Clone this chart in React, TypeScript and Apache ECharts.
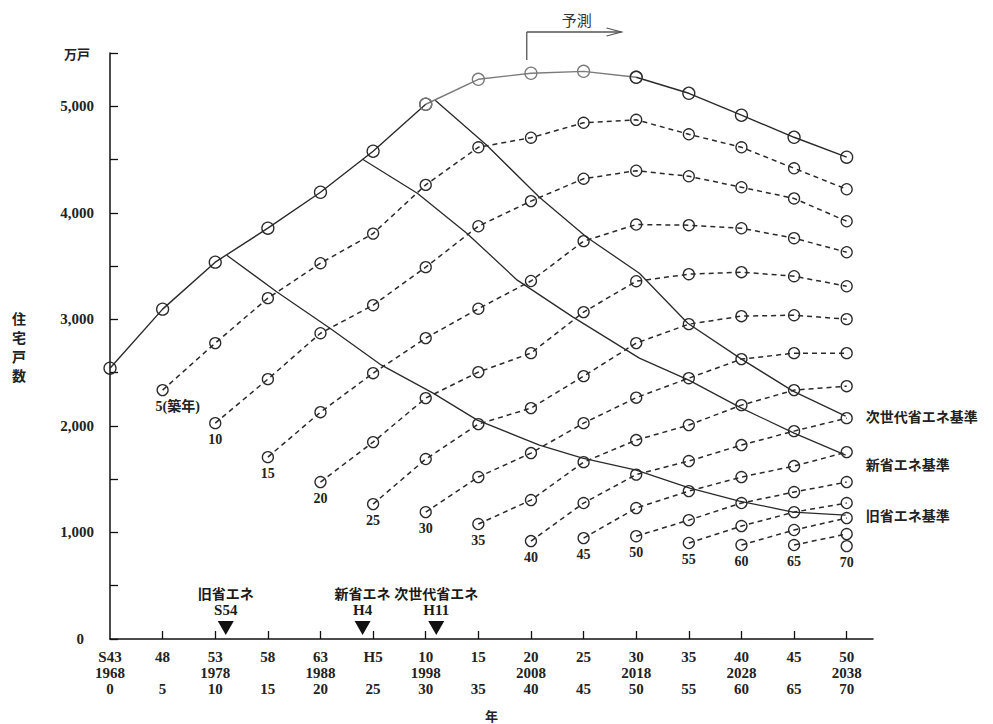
import React, { useEffect, useRef } from 'react';
import * as echarts from 'echarts';

// x positions (years elapsed since S43 / 1968)
const xValues = [0, 5, 10, 15, 20, 25, 30, 35, 40, 45, 50, 55, 60, 65, 70];
const eraLabels = ['S43', '48', '53', '58', '63', 'H5', '10', '15', '20', '25', '30', '35', '40', '45', '50'];
const yearLabels = ['1968', '', '1978', '', '1988', '', '1998', '', '2008', '', '2018', '', '2028', '', '2038'];

// total housing stock (万戸)
const totalStock = [2542, 3096, 3537, 3856, 4193, 4578, 5019, 5253, 5310, 5328, 5272, 5122, 4916, 4709, 4522];

// stock by construction age (each series starts at its own age)
const cohortStarts = [5, 10, 15, 20, 25, 30, 35, 40, 45, 50, 55, 60, 65, 70];
const cohort05 = [2336, 2777, 3199, 3527, 3805, 4262, 4615, 4705, 4845, 4873, 4737, 4615, 4418, 4221];
const cohort10 = [2026, 2439, 2870, 3133, 3490, 3874, 4110, 4320, 4395, 4343, 4240, 4135, 3921];
const cohort15 = [1707, 2129, 2495, 2824, 3100, 3360, 3734, 3890, 3884, 3855, 3762, 3630];
const cohort20 = [1473, 1848, 2261, 2505, 2683, 3068, 3358, 3424, 3443, 3405, 3311];
const cohort25 = [1266, 1689, 2017, 2167, 2467, 2777, 2955, 3030, 3039, 3002];
const cohort30 = [1191, 1520, 1745, 2026, 2265, 2448, 2627, 2683, 2683];
const cohort35 = [1079, 1304, 1660, 1867, 2008, 2195, 2336, 2373];
const cohort40 = [919, 1276, 1543, 1670, 1820, 1951, 2073];
const cohort45 = [947, 1229, 1388, 1520, 1623, 1754];
const cohort50 = [965, 1116, 1276, 1379, 1473];
const cohort55 = [901, 1060, 1191, 1276];
const cohort60 = [882, 1023, 1135];
const cohort65 = [882, 985];
const cohort70 = [872];
const cohorts = [cohort05, cohort10, cohort15, cohort20, cohort25, cohort30, cohort35, cohort40, cohort45, cohort50, cohort55, cohort60, cohort65, cohort70];

// energy-standard boundary lines [x, 万戸]
const oldStdLine = [[11.1, 3602], [15.9, 3255], [20.9, 2917], [25.8, 2570], [30.7, 2308], [34.9, 2054], [40.8, 1820], [44.9, 1698], [50.0, 1585], [55.1, 1416], [59.8, 1295], [64.9, 1191], [69.9, 1163]];
const newStdLine = [[24.0, 4503], [29.2, 4184], [33.9, 3809], [38.7, 3368], [44.0, 3021], [50.3, 2636], [55.0, 2430], [60.0, 2167], [65.0, 1932], [69.9, 1726]];
const nextStdLine = [[30.9, 5056], [35.8, 4634], [40.8, 4146], [45.3, 3771], [50.3, 3433], [54.9, 2964], [60.0, 2627], [64.9, 2326], [69.9, 2092]];
const stdLineNames = ['旧省エネ基準', '新省エネ基準', '次世代省エネ基準'];

// enforcement of standards
const markerNames = ['旧省エネ', '新省エネ', '次世代省エネ'];
const markerEras = ['S54', 'H4', 'H11'];
const markerX = [11, 24, 31];

const forecastStart = 39.6;

const SERIF = "'Liberation Serif', 'Noto Sans CJK JP', serif";
const CJK = "'Noto Sans CJK JP', sans-serif";
const INK = '#2a2a2a';

export default function App() {
  const ref = useRef<HTMLDivElement>(null);
  useEffect(() => {
    const chart = echarts.init(ref.current!, null, { renderer: 'svg' });

    const symbolStyle = { color: 'rgba(0,0,0,0)', borderColor: INK, borderWidth: 1.3 };

    const totalSeg = (from: number, to: number, color: string) => ({
      type: 'line',
      data: xValues.slice(from, to + 1).map((x, j) => [x, totalStock[from + j]]),
      symbol: 'circle',
      symbolSize: 12,
      itemStyle: { color: 'rgba(0,0,0,0)', borderColor: color, borderWidth: 1.3 },
      lineStyle: { color, width: 1.4 },
      z: 4,
    });

    const cohortSeries = cohorts.map((vals, i) => ({
      type: 'line',
      data: vals.map((v, j) => {
        const pt: any = { value: [cohortStarts[i] + 5 * j, v] };
        if (j === 0) {
          pt.label = {
            show: true,
            position: 'bottom',
            distance: 3,
            formatter: i === 0 ? '5(築年)' : String(cohortStarts[i]),
            fontFamily: SERIF,
            fontWeight: 'bold',
            fontSize: 14,
            color: '#222',
            ...(i === 0 ? { align: 'left', offset: [-7, 0] } : {}),
          };
        }
        return pt;
      }),
      symbol: 'circle',
      symbolSize: 11,
      itemStyle: symbolStyle,
      lineStyle: { color: INK, width: 1.5, type: [5, 4] },
      z: 3,
    }));

    const stdSeries = [oldStdLine, newStdLine, nextStdLine].map((pts, i) => ({
      type: 'line',
      data: pts,
      symbol: 'none',
      lineStyle: { color: INK, width: 1.3 },
      z: 2,
      endLabel: {
        show: true,
        formatter: stdLineNames[i],
        distance: 20,
        offset: i === 1 ? [0, 9] : [0, 0],
        fontFamily: CJK,
        fontWeight: 'bold',
        fontSize: 14,
        color: '#222',
      },
    }));

    const markerSeries = {
      type: 'scatter',
      data: markerX.map((x, i) => ({
        value: [x, 0],
        label: {
          show: true,
          position: 'top',
          distance: 3,
          color: '#1a1a1a',
          fontFamily: SERIF,
          fontWeight: 'bold',
          fontSize: 15,
          formatter: `{a|${markerNames[i]}}\n{b|${markerEras[i]}}`,
          rich: {
            a: { fontFamily: CJK, fontWeight: 'bold', fontSize: 14, lineHeight: 17, color: '#1a1a1a' },
            b: { fontFamily: SERIF, fontWeight: 'bold', fontSize: 15, lineHeight: 17, color: '#1a1a1a' },
          },
        },
      })),
      symbol: 'triangle',
      symbolRotate: 180,
      symbolSize: [16, 14],
      symbolOffset: [0, -11],
      itemStyle: { color: '#111', opacity: 1 },
      z: 5,
    };

    const option: any = {
      animation: false,
      backgroundColor: '#fff',
      grid: { left: 110, top: 53, width: 763, height: 586, outerBoundsMode: 'none' },
      xAxis: {
        type: 'value',
        min: 0,
        max: 72.5,
        name: '年',
        nameLocation: 'middle',
        nameGap: 70,
        nameTextStyle: { fontFamily: CJK, fontSize: 13, fontWeight: 'bold', color: '#222' },
        axisLine: { show: true, lineStyle: { color: '#111', width: 1.5 } },
        axisTick: { show: true, inside: true, length: 8, customValues: xValues.slice(1), lineStyle: { color: '#111', width: 1.3 } },
        axisLabel: {
          customValues: xValues,
          margin: 10,
          fontFamily: SERIF,
          fontWeight: 'bold',
          fontSize: 15,
          lineHeight: 16,
          color: '#222',
          formatter: (v: number) => {
            const i = xValues.indexOf(v);
            return `${eraLabels[i]}\n${yearLabels[i]}\n${v}`;
          },
        },
        splitLine: { show: false },
      },
      yAxis: {
        type: 'value',
        min: 0,
        max: 5500,
        interval: 500,
        name: '住\n宅\n戸\n数',
        nameLocation: 'middle',
        nameRotate: 0,
        nameGap: 84,
        nameTextStyle: { fontFamily: CJK, fontSize: 14, fontWeight: 'bold', lineHeight: 19, color: '#222' },
        axisLine: { show: true, lineStyle: { color: '#111', width: 1.5 } },
        axisTick: { show: true, inside: true, length: 8, lineStyle: { color: '#111', width: 1.3 } },
        axisLabel: {
          margin: 16,
          fontFamily: SERIF,
          fontWeight: 'bold',
          fontSize: 15,
          color: '#222',
          formatter: (v: number) => {
            if (v === 5500) return '{u|万戸}';
            if (v === 0) return '{z|0}';
            if (v % 1000 === 0) return v.toLocaleString('en-US');
            return '';
          },
          rich: {
            u: { fontFamily: CJK, fontSize: 13, fontWeight: 'bold', color: '#222', padding: [0, 4, 0, 0] },
            z: { fontFamily: SERIF, fontSize: 15, fontWeight: 'bold', color: '#222', padding: [0, 10, 0, 0] },
          },
        },
        splitLine: { show: false },
      },
      series: [
        totalSeg(0, 6, INK),
        totalSeg(6, 10, '#7a7a7a'),
        totalSeg(10, 14, INK),
        ...cohortSeries,
        ...stdSeries,
        markerSeries,
      ],
    };

    chart.setOption(option);

    const [fx, fyTop] = chart.convertToPixel({ gridIndex: 0 }, [forecastStart, 5500]) as number[];
    const [ex] = chart.convertToPixel({ gridIndex: 0 }, [48.6, 5500]) as number[];
    const yBar = fyTop - 21;
    chart.setOption({
      graphic: [
        { type: 'line', shape: { x1: fx, y1: fyTop + 7, x2: fx, y2: yBar }, style: { stroke: '#555', lineWidth: 1.3 } },
        { type: 'line', shape: { x1: fx, y1: yBar, x2: ex, y2: yBar }, style: { stroke: '#555', lineWidth: 1.3 } },
        { type: 'polyline', shape: { points: [[ex - 15, yBar - 4], [ex, yBar], [ex - 15, yBar + 4]] }, style: { stroke: '#555', lineWidth: 1.2, fill: null } },
        { type: 'text', x: fx + 50, y: yBar - 13, style: { text: '予測', fontFamily: CJK, fontSize: 15, fill: '#333', align: 'center', verticalAlign: 'middle' } },
      ],
    });

    return () => chart.dispose();
  }, []);
  return <div ref={ref} style={{ position: 'fixed', left: 0, top: 0, width: 993, height: 724, background: '#fff' }} />;
}
